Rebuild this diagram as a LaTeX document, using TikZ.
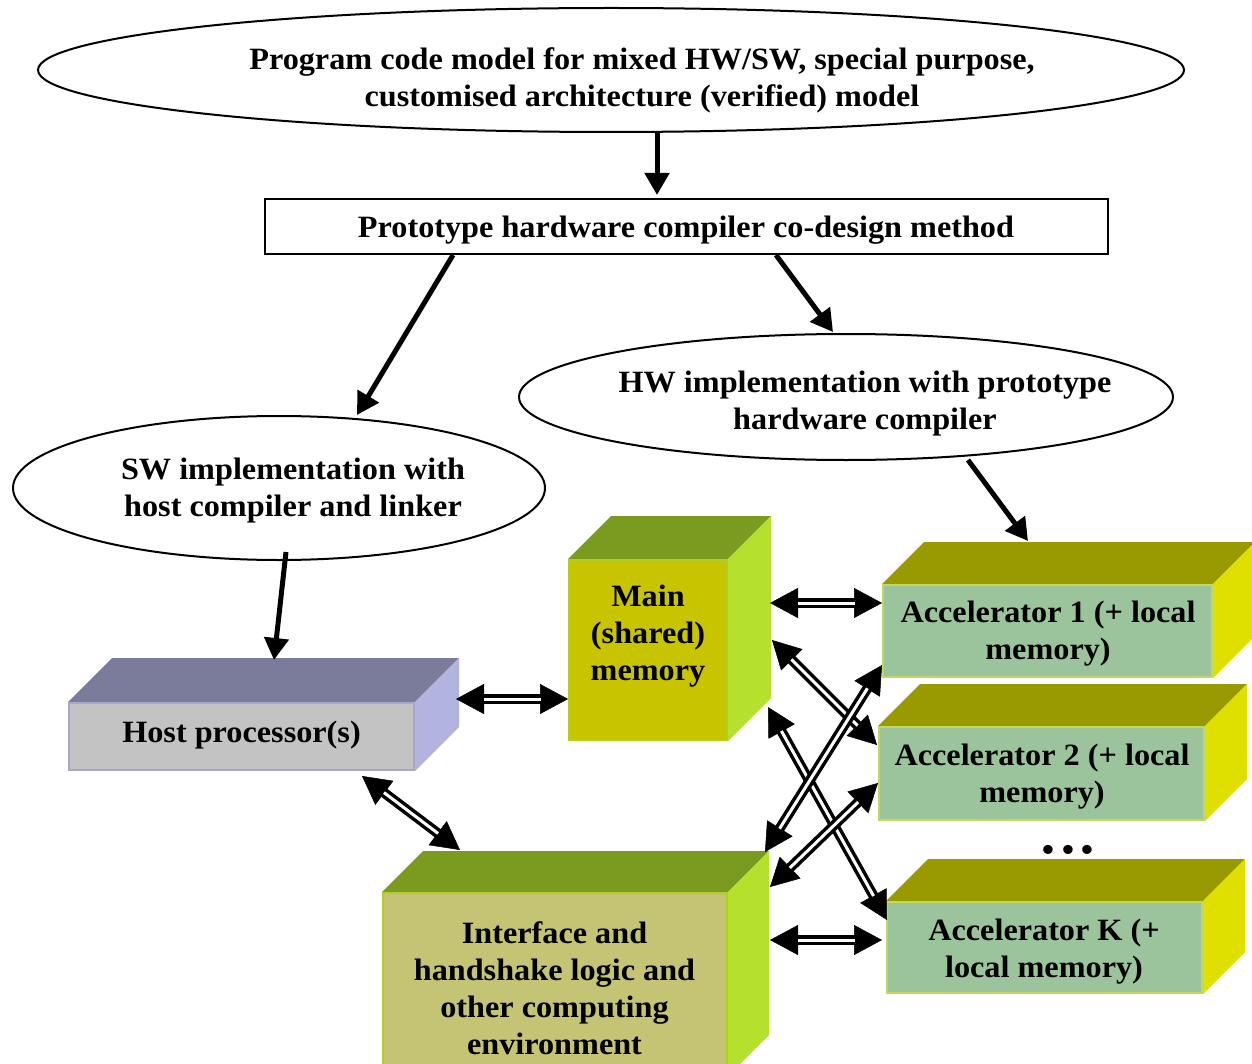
\documentclass[tikz,border=0pt]{standalone}
\usepackage{fontspec}
\setmainfont{Liberation Serif}[FakeStretch=1.04]
\usetikzlibrary{shapes.geometric,arrows.meta}
\definecolor{hostfront}{HTML}{C3C3C3}
\definecolor{hosttop}{HTML}{7B7B9B}
\definecolor{hostside}{HTML}{B3B3E0}
\definecolor{hostedge}{HTML}{A8A8C8}
\definecolor{memfront}{HTML}{C8C400}
\definecolor{greentop}{HTML}{7A9A20}
\definecolor{limeside}{HTML}{B5E02E}
\definecolor{memedge}{HTML}{B0D020}
\definecolor{accfront}{HTML}{9CC49C}
\definecolor{acctop}{HTML}{999900}
\definecolor{accside}{HTML}{E0E000}
\definecolor{accedge}{HTML}{C0D860}
\definecolor{iffront}{HTML}{C4C474}
\tikzset{
  txt/.style={align=center,inner sep=0pt,font=\fontsize{31}{37}\selectfont\bfseries},
  oval/.style={ellipse,draw,line width=2pt,inner sep=0pt},
  face/.style={inner sep=0pt,line width=2pt},
  thick arrow/.style={line width=5pt,-{Triangle[length=22pt,width=24pt]}},
  dbltip/.style={line width=0.5pt,{Triangle[length=28pt,width=30pt]}-{Triangle[length=28pt,width=30pt]}},
  dblshaft/.style={line width=3.5pt,double=white,double distance=3pt,shorten <=27.5pt,shorten >=27.5pt},
}
\newcommand\dblarrow[2]{\draw[dbltip] (#1) -- (#2); \draw[dblshaft] (#1) -- (#2);}
% name, center, width, height, depth, front, top, side, edge
\newcommand\boxthreed[9]{%
  \node[face,fill=#6,draw=#9,minimum width=#3,minimum height=#4] (#1) at (#2) {};
  \fill[#7] (#1.north west) -- ++(#5,-#5) -- ([shift={(#5,-#5)}]#1.north east) -- (#1.north east) -- cycle;
  \fill[#8] (#1.north east) -- ++(#5,-#5) -- ([shift={(#5,-#5)}]#1.south east) -- (#1.south east) -- cycle;
  \node[face,draw=#9,minimum width=#3,minimum height=#4] at (#2) {};
}
\begin{document}
\begin{tikzpicture}[x=1pt,y=-1pt]
\useasboundingbox (0,0) rectangle (1252,1064);
% top ellipse
\node[oval,minimum width=1146,minimum height=124] (prog) at (611,70) {};
\node[txt] (progtxt) at (642,80) {Program code model for mixed HW/SW, special purpose,\\customised architecture (verified) model};
% rectangle
\node[draw,line width=2pt,minimum width=843,minimum height=55,inner sep=0pt] (proto) at (686.5,226.5) {};
\node[txt] (prototxt) at (686,230) {Prototype hardware compiler co-design method};
% HW ellipse
\node[oval,minimum width=654,minimum height=126] (hw) at (846,397) {};
\node[txt] (hwtxt) at (865,404) {HW implementation with prototype\\hardware compiler};
% SW ellipse
\node[oval,minimum width=532,minimum height=144] (sw) at (279,488) {};
\node[txt] (swtxt) at (293,491) {SW implementation with\\host compiler and linker};
% boxes
\boxthreed{host}{241.5,736.5}{345}{67}{44}{hostfront}{hosttop}{hostside}{hostedge}
\node[txt] (hosttxt) at (241.5,735) {Host processor(s)};
\boxthreed{mem}{648,650}{158}{180}{43}{memfront}{greentop}{limeside}{memedge}
\node[txt] (memtxt) at (648,636) {Main\\(shared)\\memory};
\boxthreed{acc1}{1047.5,631}{329}{92}{42}{accfront}{acctop}{accside}{accedge}
\node[txt] (acc1txt) at (1048,633.5) {Accelerator 1 (+ local\\memory)};
\boxthreed{acc2}{1041.5,773.5}{325}{93}{42}{accfront}{acctop}{accside}{accedge}
\node[txt] (acc2txt) at (1042,776.5) {Accelerator 2 (+ local\\memory)};
\boxthreed{acck}{1044.5,947.5}{315}{91}{42}{accfront}{acctop}{accside}{accedge}
\node[txt] (accktxt) at (1044,951.5) {Accelerator K (+\\local memory)};
\boxthreed{intf}{555,984}{344}{182}{41}{iffront}{greentop}{limeside}{memedge}
\node[txt] (intftxt) at (554.5,988) {Interface and\\handshake logic and\\other computing\\environment};
\node[inner sep=0pt,font=\fontsize{38}{38}\selectfont] (dots) at (1068,854) {•\hspace{6pt}•\hspace{6pt}•};
% single arrows
\coordinate (a1s) at (657,133); \coordinate (a1e) at (657,195);
\coordinate (a2s) at (453,255); \coordinate (a2e) at (357,415);
\coordinate (a3s) at (776,255); \coordinate (a3e) at (833,332);
\coordinate (a4s) at (968,460); \coordinate (a4e) at (1028,541);
\coordinate (a5s) at (286,552); \coordinate (a5e) at (274,660);
\draw[thick arrow] (a1s) -- (a1e);
\draw[thick arrow] (a2s) -- (a2e);
\draw[thick arrow] (a3s) -- (a3e);
\draw[thick arrow] (a4s) -- (a4e);
\draw[thick arrow] (a5s) -- (a5e);
% double arrows
\coordinate (hm1) at (456,699); \coordinate (hm2) at (568,699);
\coordinate (hi1) at (362,776); \coordinate (hi2) at (460,850);
\coordinate (ma1a) at (770,603); \coordinate (ma1b) at (882,603);
\coordinate (ma2a) at (772,640); \coordinate (ma2b) at (877,745);
\coordinate (maka) at (768,707); \coordinate (makb) at (887,920);
\coordinate (ia1a) at (765,852); \coordinate (ia1b) at (882,665);
\coordinate (ia2a) at (770,887); \coordinate (ia2b) at (878,783);
\coordinate (iaka) at (770,940); \coordinate (iakb) at (882,940);
\dblarrow{hm1}{hm2}
\dblarrow{hi1}{hi2}
\dblarrow{ma1a}{ma1b}
\dblarrow{ma2a}{ma2b}
\dblarrow{maka}{makb}
\dblarrow{ia1a}{ia1b}
\dblarrow{ia2a}{ia2b}
\dblarrow{iaka}{iakb}
\end{tikzpicture}
\end{document}
